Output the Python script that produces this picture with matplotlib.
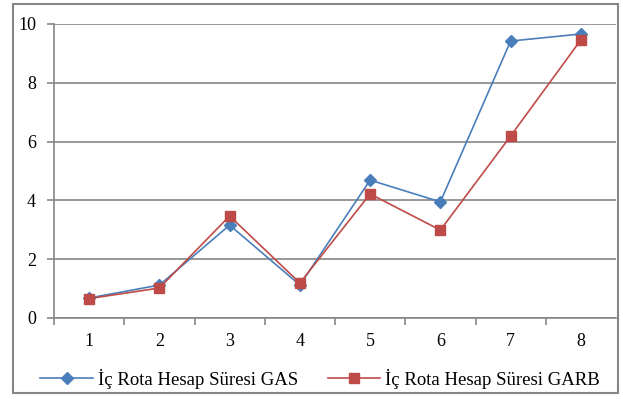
import matplotlib
matplotlib.use("Agg")
import matplotlib.pyplot as plt
from matplotlib.patches import Rectangle

plt.rcParams['font.family'] = ['Liberation Serif', 'DejaVu Serif']

# Données
categories = [1, 2, 3, 4, 5, 6, 7, 8]
gas = [0.68, 1.12, 3.16, 1.12, 4.69, 3.95, 9.42, 9.66]
garb = [0.66, 1.02, 3.47, 1.19, 4.22, 2.99, 6.19, 9.46]
labels = ["İç Rota Hesap Süresi GAS", "İç Rota Hesap Süresi GARB"]

blue = "#4A7EBB"
red = "#BE4B48"
grey = "#868686"

fig = plt.figure(figsize=(6.23, 3.99), dpi=100)
ax = fig.add_axes([54 / 623, 81 / 399, 562 / 623, 294 / 399])

ax.plot(categories, gas, color=blue, lw=1.2, marker="D", ms=6, label=labels[0], zorder=3)
ax.plot(categories, garb, color=red, lw=1.2, marker="s", ms=7, label=labels[1], zorder=3)

ax.set_xlim(0.5, 8.5)
ax.set_ylim(0, 10)
ax.set_yticks(range(0, 11, 2))
ax.set_xticks(categories)
ax.set_xticks([c + 0.5 for c in range(0, 8)], minor=True)
ax.tick_params(axis="x", which="major", length=0, pad=11, labelsize=13)
ax.tick_params(axis="x", which="minor", length=5, width=1.2, color=grey, direction="out")
ax.tick_params(axis="y", length=5, width=1.2, color=grey, pad=8, labelsize=13)
ax.grid(axis="y", color=grey, lw=1.2)
ax.set_axisbelow(True)
for side in ["top", "right"]:
    ax.spines[side].set_visible(False)
for side in ["left", "bottom"]:
    ax.spines[side].set_color(grey)
    ax.spines[side].set_linewidth(1.2)

fig.legend(loc="center", bbox_to_anchor=(320 / 623, 20 / 399), ncol=2, frameon=False,
           fontsize=13.5, handlelength=2.8, columnspacing=1.6, handletextpad=0.25)

fig.patches.append(Rectangle((13 / 623, 6 / 399), 605 / 623, 389 / 399,
                             transform=fig.transFigure, fill=False,
                             edgecolor=grey, lw=1.5))

fig.savefig("out.png", dpi=100)
